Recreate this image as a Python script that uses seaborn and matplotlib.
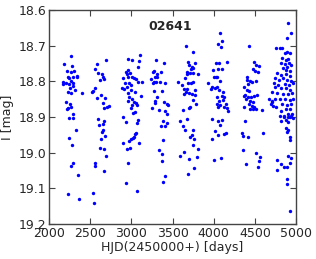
import numpy as np
import pandas as pd
import seaborn as sns
import matplotlib
matplotlib.use("Agg")
import matplotlib.pyplot as plt

# light curve of star 02641
hjd_s1 = [2267, 2186, 2279, 2215, 2263, 2304, 2235, 2296, 2336, 2247, 2344, 2166, 2206, 2271,
          2296, 2174, 2247, 2287, 2255, 2316, 2235, 2263, 2397, 2206, 2255, 2235, 2263, 2223,
          2296, 2239, 2287, 2328, 2247, 2275, 2296, 2271, 2352, 2231, 2368]
mag_s1 = [18.729, 18.751, 18.757, 18.771, 18.773, 18.771, 18.787, 18.789, 18.785, 18.790, 18.789,
          18.801, 18.804, 18.798, 18.804, 18.808, 18.808, 18.813, 18.819, 18.824, 18.831, 18.833,
          18.833, 18.857, 18.863, 18.875, 18.873, 18.877, 18.892, 18.902, 18.903, 18.936, 18.960,
          18.978, 19.030, 19.037, 19.062, 19.115, 19.130]

hjd_s2 = [2579, 2692, 2563, 2599, 2640, 2660, 2668, 2620, 2559, 2539, 2518, 2579, 2628, 2680,
          2652, 2701, 2733, 2668, 2595, 2668, 2660, 2611, 2640, 2660, 2680, 2628, 2620, 2668,
          2692, 2555, 2563, 2672, 2539, 2547]
mag_s2 = [18.751, 18.740, 18.766, 18.777, 18.780, 18.787, 18.794, 18.796, 18.818, 18.827, 18.831,
          18.847, 18.838, 18.846, 18.861, 18.871, 18.869, 18.875, 18.905, 18.911, 18.919, 18.922,
          18.941, 18.936, 18.953, 18.962, 18.988, 18.990, 19.009, 19.028, 19.037, 19.050, 19.114,
          19.142]

hjd_s3 = [3105, 2955, 3004, 3093, 3085, 2964, 2931, 2984, 2943, 2903, 2955, 3012, 3036, 3053,
          3085, 3134, 2923, 2972, 2996, 2891, 2907, 2943, 2996, 2964, 3045, 3117, 2972, 3004,
          2964, 3036, 3053, 3012, 2996, 3065, 3045, 3024, 2903, 2931, 3077, 3065, 3053, 3036,
          2996, 2903, 2943, 2980, 3093, 2964, 2931, 3069, 2972, 3020, 3045]
mag_s3 = [18.725, 18.738, 18.740, 18.742, 18.759, 18.768, 18.775, 18.777, 18.780, 18.791, 18.789,
          18.789, 18.791, 18.794, 18.801, 18.801, 18.805, 18.805, 18.810, 18.819, 18.822, 18.815,
          18.824, 18.833, 18.829, 18.841, 18.845, 18.850, 18.854, 18.857, 18.861, 18.866, 18.875,
          18.866, 18.885, 18.889, 18.901, 18.913, 18.908, 18.917, 18.946, 18.957, 18.962, 18.974,
          18.990, 18.988, 18.972, 19.028, 19.086, 19.106, 18.967, 18.959, 18.948]

hjd_s4 = [3300, 3397, 3259, 3276, 3357, 3308, 3292, 3316, 3235, 3276, 3300, 3259, 3349, 3405,
          3276, 3373, 3316, 3292, 3284, 3397, 3430, 3450, 3247, 3340, 3409, 3438, 3389, 3438,
          3357, 3409, 3389, 3340, 3369, 3373, 3409, 3381]
mag_s4 = [18.740, 18.747, 18.773, 18.771, 18.775, 18.780, 18.787, 18.789, 18.794, 18.801, 18.803,
          18.805, 18.803, 18.804, 18.827, 18.827, 18.843, 18.855, 18.861, 18.857, 18.863, 18.866,
          18.875, 18.880, 18.882, 18.891, 18.911, 18.917, 18.925, 18.925, 18.964, 18.992, 19.004,
          19.023, 19.064, 19.081]

hjd_s5 = [3664, 3745, 3693, 3774, 3705, 3733, 3721, 3754, 3681, 3713, 3745, 3673, 3814, 3656,
          3571, 3693, 3721, 3612, 3754, 3644, 3673, 3774, 3664, 3705, 3733, 3640, 3774, 3745,
          3786, 3713, 3705, 3632, 3673, 3592, 3632, 3652, 3745, 3733, 3713, 3762, 3754, 3806,
          3644, 3592, 3705, 3794, 3762, 3685]
mag_s5 = [18.700, 18.717, 18.745, 18.748, 18.754, 18.759, 18.766, 18.763, 18.773, 18.777, 18.776,
          18.780, 18.779, 18.791, 18.801, 18.804, 18.805, 18.810, 18.801, 18.822, 18.822, 18.824,
          18.829, 18.832, 18.835, 18.835, 18.838, 18.852, 18.863, 18.871, 18.875, 18.880, 18.906,
          18.911, 18.925, 18.936, 18.936, 18.950, 18.955, 18.962, 18.978, 18.990, 18.997, 19.009,
          19.018, 19.011, 19.042, 19.059]

hjd_s6 = [4082, 4106, 4049, 4090, 4025, 4066, 4163, 4098, 3997, 4049, 4009, 4025, 4037, 4078,
          3936, 3977, 3968, 4017, 4037, 4066, 4118, 4041, 4098, 4130, 4118, 4066, 4037, 4082,
          4147, 4058, 4130, 4159, 4179, 3977, 4049, 4098, 4078, 4017, 4058, 4130, 4151, 3985,
          4009, 4090]
mag_s6 = [18.663, 18.687, 18.695, 18.703, 18.748, 18.749, 18.746, 18.766, 18.768, 18.766, 18.789,
          18.787, 18.789, 18.798, 18.805, 18.815, 18.821, 18.819, 18.817, 18.824, 18.829, 18.845,
          18.841, 18.845, 18.852, 18.855, 18.863, 18.866, 18.862, 18.873, 18.871, 18.875, 18.882,
          18.906, 18.911, 18.908, 18.922, 18.939, 18.950, 18.948, 18.944, 18.961, 19.020, 19.016]

hjd_s7 = [4434, 4491, 4515, 4544, 4475, 4503, 4532, 4410, 4402, 4443, 4463, 4422, 4515, 4362,
          4402, 4434, 4382, 4370, 4422, 4451, 4483, 4524, 4394, 4443, 4475, 4434, 4463, 4362,
          4491, 4443, 4475, 4515, 4584, 4382, 4341, 4353, 4422, 4596, 4353, 4515, 4564, 4544,
          4386, 4532]
mag_s7 = [18.700, 18.745, 18.754, 18.757, 18.766, 18.770, 18.773, 18.789, 18.796, 18.798, 18.801,
          18.807, 18.798, 18.817, 18.824, 18.826, 18.838, 18.841, 18.843, 18.845, 18.841, 18.838,
          18.850, 18.854, 18.857, 18.863, 18.869, 18.871, 18.871, 18.876, 18.878, 18.878, 18.880,
          18.910, 18.944, 18.953, 18.957, 18.946, 18.992, 19.000, 19.013, 19.022, 19.032, 19.039]

hjd_s8 = [4904, 4892, 4944, 4758, 4799, 4823, 4892, 4863, 4920, 4831, 4872, 4904, 4811, 4863,
          4912, 4944, 4892, 4839, 4880, 4932, 4770, 4811, 4872, 4920, 4750, 4791, 4839, 4892,
          4944, 4730, 4782, 4863, 4912, 4961, 4750, 4811, 4880, 4932, 4710, 4770, 4839, 4904,
          4953, 4677, 4742, 4799, 4863, 4920, 4961, 4710, 4831, 4892, 4944, 4758, 4872, 4932,
          4811, 4904, 4953, 4851, 4920, 4961, 4694, 4706, 4722,
          4799, 4851, 4904, 4944, 4811, 4880, 4904, 4872, 4904, 4892, 4920, 4920, 4904, 4944,
          4770, 4811, 4851, 4892, 4932, 4770, 4892, 4892, 4932]
mag_s8 = [18.635, 18.677, 18.665, 18.707, 18.705, 18.705, 18.717, 18.721, 18.720, 18.735, 18.740,
          18.738, 18.749, 18.751, 18.749, 18.754, 18.759, 18.763, 18.768, 18.770, 18.777, 18.782,
          18.779, 18.785, 18.791, 18.796, 18.791, 18.796, 18.798, 18.804, 18.810, 18.807, 18.810,
          18.805, 18.817, 18.819, 18.819, 18.824, 18.829, 18.832, 18.834, 18.835, 18.832, 18.850,
          18.850, 18.848, 18.850, 18.852, 18.848, 18.857, 18.862, 18.866, 18.863, 18.871, 18.876,
          18.878, 18.882, 18.890, 18.891, 18.897, 18.899, 18.904, 18.862, 18.854, 18.870,
          18.896, 18.901, 18.899, 18.896, 18.911, 18.908, 18.915, 18.931, 18.936, 18.941, 18.955,
          18.964, 19.008, 19.014, 19.020, 19.032, 19.039, 19.039, 19.029, 19.048, 19.073, 19.088,
          19.163]

hjd = hjd_s1 + hjd_s2 + hjd_s3 + hjd_s4 + hjd_s5 + hjd_s6 + hjd_s7 + hjd_s8
imag = mag_s1 + mag_s2 + mag_s3 + mag_s4 + mag_s5 + mag_s6 + mag_s7 + mag_s8
df = pd.DataFrame({"hjd": hjd, "imag": imag})

sns.set_theme(style="ticks")
plt.rcParams["font.family"] = ["DejaVu Sans"]
plt.rcParams["xtick.direction"] = "in"
plt.rcParams["ytick.direction"] = "in"

fig = plt.figure(figsize=(3.16, 2.59), dpi=100)
ax = fig.add_axes([0.155, 0.135, 0.782, 0.826])

sns.scatterplot(data=df, x="hjd", y="imag", color="blue", s=6, linewidth=0, ax=ax)

ax.set_xlim(2000, 5000)
ax.set_ylim(19.2, 18.6)
ax.set_xticks(np.arange(2000, 5001, 500))
ax.set_yticks(np.arange(18.6, 19.21, 0.1))
ax.set_yticklabels(["18.6", "18.7", "18.8", "18.9", "19.0", "19.1", "19.2"])
ax.tick_params(axis="both", which="major", labelsize=9, length=4, width=0.8,
               top=True, right=True, color="#444444", pad=2)
for sp in ax.spines.values():
    sp.set_color("#444444")
    sp.set_linewidth(1.0)

ax.set_xlabel("HJD(2450000+) [days]", fontsize=9, labelpad=1)
ax.set_ylabel("I [mag]", fontsize=9, labelpad=3)
ax.text(0.49, 0.925, "02641", transform=ax.transAxes, ha="center", va="center",
        fontsize=9, fontweight="bold")

fig.savefig("out.png", dpi=100)
